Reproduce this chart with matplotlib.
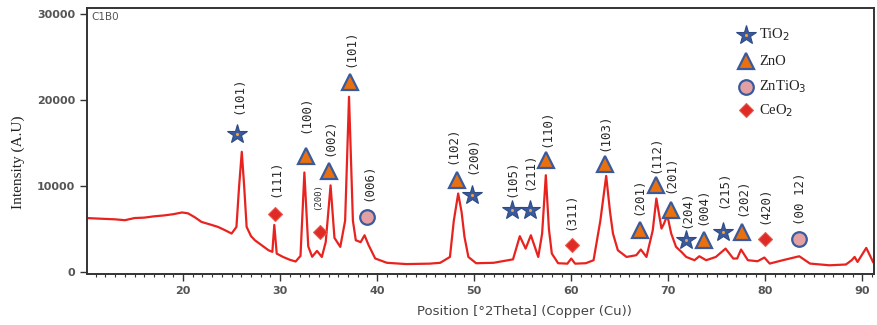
import matplotlib
matplotlib.use("Agg")
import matplotlib.pyplot as plt

# ---------------- data ----------------
two_theta = [10.1, 11, 12, 13, 14, 15, 16, 17, 18, 19, 19.9, 20.5, 21.2, 21.9, 22.8, 23.6,
             24.3, 25.0, 25.5, 25.77, 26.05, 26.3, 26.55, 27.0, 27.4, 28.1, 28.8, 29.2, 29.4,
             29.65, 30.3, 31.0, 31.6, 32.1, 32.5, 32.9, 33.3, 33.8, 34.3, 34.7, 35.2, 35.6,
             36.2, 36.7, 37.1, 37.5, 37.8, 38.3, 38.7, 39.1, 39.8, 41.0, 43, 45.4, 46.5, 47.5,
             47.9, 48.35, 48.7, 49.0, 49.4, 50.2, 52, 54.0, 54.7, 55.3, 55.84, 56.6, 57.0,
             57.38, 57.7, 58.0, 58.65, 59.6, 60.0, 60.4, 61.5, 62.3, 62.6, 63.0, 63.6, 64.0,
             64.3, 64.8, 65.7, 66.7, 67.17, 67.75, 68.4, 68.77, 69.3, 69.56, 69.9, 70.3, 70.8,
             71.35, 71.85, 72.7, 73.2, 73.9, 74.9, 75.9, 76.7, 77.1, 77.5, 78.2, 79.2, 79.9,
             80.45, 81.8, 83.5, 84.6, 86.6, 88.3, 88.9, 89.2, 89.5, 90.4, 91.1]
intensity = [6300, 6250, 6200, 6150, 6050, 6300, 6350, 6500, 6600, 6750, 6950, 6850, 6400, 5850,
             5550, 5270, 4900, 4500, 5270, 9920, 14000, 9920, 5270, 4200, 3720, 3140, 2560, 2370,
             5500, 2170, 1780, 1450, 1250, 1900, 11600, 3000, 1800, 2480, 1780, 3500, 10100, 4000,
             2950, 6000, 20400, 6000, 3720, 3500, 4300, 3200, 1600, 1100, 950, 1000, 1100, 1780,
             6000, 9150, 7000, 4100, 1780, 1050, 1100, 1500, 4190, 2750, 4300, 1780, 4500,
             11280, 5000, 2170, 1050, 1000, 1590, 1000, 1050, 1400, 3370, 6000, 11200, 7000,
             4500, 2560, 1780, 1980, 2640, 1780, 4880, 8570, 5080, 5660, 6630, 4500, 2950,
             2370, 1780, 1400, 1860, 1400, 1780, 2750, 1590, 1600, 2640, 1400, 1280, 1710,
             1010, 1400, 1860, 1010, 810, 900, 1400, 1780, 1200, 2830, 1200]

# TiO2 (stars)
tio2_pos = [25.6, 49.8, 53.85, 55.7, 71.8, 75.65]
tio2_int = [16100, 8950, 7200, 7200, 3720, 4690]
tio2_hkl = ["(101)", "(200)", "(105)", "(211)", "(204)", "(215)"]
tio2_lab_pos = [25.8, 49.9, 53.85, 55.7, 71.9, 75.7]
tio2_lab_int = [20600, 13600, 10900, 11700, 7300, 9650]

# ZnO (triangles)
zno_pos = [32.67, 35.07, 37.2, 48.2, 57.35, 63.46, 67.07, 68.7, 70.26, 73.65, 77.6]
zno_int = [13490, 11780, 22100, 10700, 13000, 12640, 4880, 10100, 7200, 3800, 4690]
zno_hkl = ["(100)", "(002)", "(101)", "(102)", "(110)", "(103)", "(201)", "(112)", "(201)",
           "(004)", "(202)"]
zno_lab_pos = [32.7, 35.1, 37.3, 47.85, 57.45, 63.5, 67.0, 68.75, 70.3, 73.6, 77.65]
zno_lab_int = [18400, 15700, 26000, 14800, 16700, 16250, 8840, 13700, 11400, 7700, 8720]

# ZnTiO3 (circles)
zntio3_pos = [38.98, 83.5]
zntio3_int = [6430, 3920]
zntio3_hkl = ["(006)", "(00 12)"]
zntio3_lab_pos = [39.1, 83.6]
zntio3_lab_int = [10500, 8490]

# CeO2 (diamonds)
ceo2_pos = [29.5, 34.1, 60.1, 79.96]
ceo2_int = [6800, 4690, 3140, 3920]
ceo2_hkl = ["(111)", "(200)", "(311)", "(420)"]
ceo2_lab_pos = [29.6, 33.9, 60.0, 80.0]
ceo2_lab_int = [10900, 8840, 7100, 7790]

legend_names = ["TiO$_2$", "ZnO", "ZnTiO$_3$", "CeO$_2$"]

# ---------------- styles ----------------
RED = "#e8231f"
BLUE = "#3a5a9c"
ORANGE = "#e8700f"
PINK = "#e3a0a4"
GRAY = "#555555"

fig = plt.figure(figsize=(8.77, 3.25), dpi=100)
ax = fig.add_axes([0.0992, 0.157, 0.8974, 0.818])

ax.plot(two_theta, intensity, color=RED, lw=1.6, zorder=2)

star_kw = dict(ls="none", marker="*", ms=15, mfc=BLUE, mec="#2c4a85", mew=0.8, zorder=4)
tri_kw = dict(ls="none", marker="^", ms=11, mfc=ORANGE, mec=BLUE, mew=1.6, zorder=4)
circ_kw = dict(ls="none", marker="o", ms=10.5, mfc=PINK, mec=BLUE, mew=1.6, zorder=4)
dia_kw = dict(ls="none", marker="D", ms=7.5, mfc="#e02a25", mec="#e85a50", mew=0.8, zorder=4)

ax.plot(tio2_pos, tio2_int, **star_kw)
ax.plot(tio2_pos, tio2_int, ls="none", marker="o", ms=2.2, mfc="#f0a050", mec="none", zorder=5)
ax.plot(zno_pos, zno_int, **tri_kw)
ax.plot(zntio3_pos, zntio3_int, **circ_kw)
ax.plot(ceo2_pos, ceo2_int, **dia_kw)

lab_kw = dict(rotation=90, ha="center", va="center", family="DejaVu Sans Mono",
              fontsize=9, color="#2a2a2a", zorder=6)
for xs, ys, ts in [(tio2_lab_pos, tio2_lab_int, tio2_hkl),
                   (zno_lab_pos, zno_lab_int, zno_hkl),
                   (zntio3_lab_pos, zntio3_lab_int, zntio3_hkl),
                   (ceo2_lab_pos, ceo2_lab_int, ceo2_hkl)]:
    for x, y, t in zip(xs, ys, ts):
        kw = dict(lab_kw)
        if t == "(200)" and x < 40:
            kw["fontsize"] = 6.5
        ax.text(x, y, t, **kw)

# legend (manual, inside axes)
leg_x = 0.837
leg_y = [0.90, 0.80, 0.705, 0.615]
leg_styles = [star_kw, tri_kw, circ_kw, dia_kw]
for yy, name, st in zip(leg_y, legend_names, leg_styles):
    kw = dict(st)
    ax.plot([leg_x], [yy], transform=ax.transAxes, clip_on=False, **kw)
    ax.text(leg_x + 0.017, yy, name, transform=ax.transAxes, ha="left", va="center",
            family="Liberation Serif", fontsize=10.5, color="#222222")
ax.plot([leg_x], [leg_y[0]], transform=ax.transAxes, ls="none", marker="o", ms=2.2,
        mfc="#f0a050", mec="none", zorder=5)

# axes formatting
ax.set_xlim(10.1, 91.2)
ax.set_ylim(-200, 30700)
ax.set_xticks([20, 30, 40, 50, 60, 70, 80, 90])
ax.set_xticks(range(11, 92), minor=True)
ax.set_yticks([0, 10000, 20000, 30000])
ax.tick_params(axis="both", which="major", direction="out", length=5, width=1.0,
               colors="#333333", labelcolor=GRAY, labelsize=8)
ax.tick_params(axis="x", which="minor", direction="out", length=2.5, width=0.8,
               colors="#333333")
for s in ax.spines.values():
    s.set_color("#333333")
    s.set_linewidth(1.4)
for lab in ax.get_xticklabels() + ax.get_yticklabels():
    lab.set_family("Liberation Sans Narrow")
    lab.set_fontweight("bold")

ax.text(0.006, 0.985, "C1B0", transform=ax.transAxes, ha="left", va="top",
        fontsize=7.5, color=GRAY, family="DejaVu Sans")

fig.text(0.021, 0.5, "Intensity (A.U)", rotation=90, ha="center", va="center",
         family="Liberation Serif", fontsize=11, color="#222222")
fig.text(0.598, 0.04, "Position [°2Theta] (Copper (Cu))", ha="center", va="center",
         family="Liberation Sans Narrow", fontsize=9.5, color="#444444")

fig.savefig("out.png", dpi=100)
